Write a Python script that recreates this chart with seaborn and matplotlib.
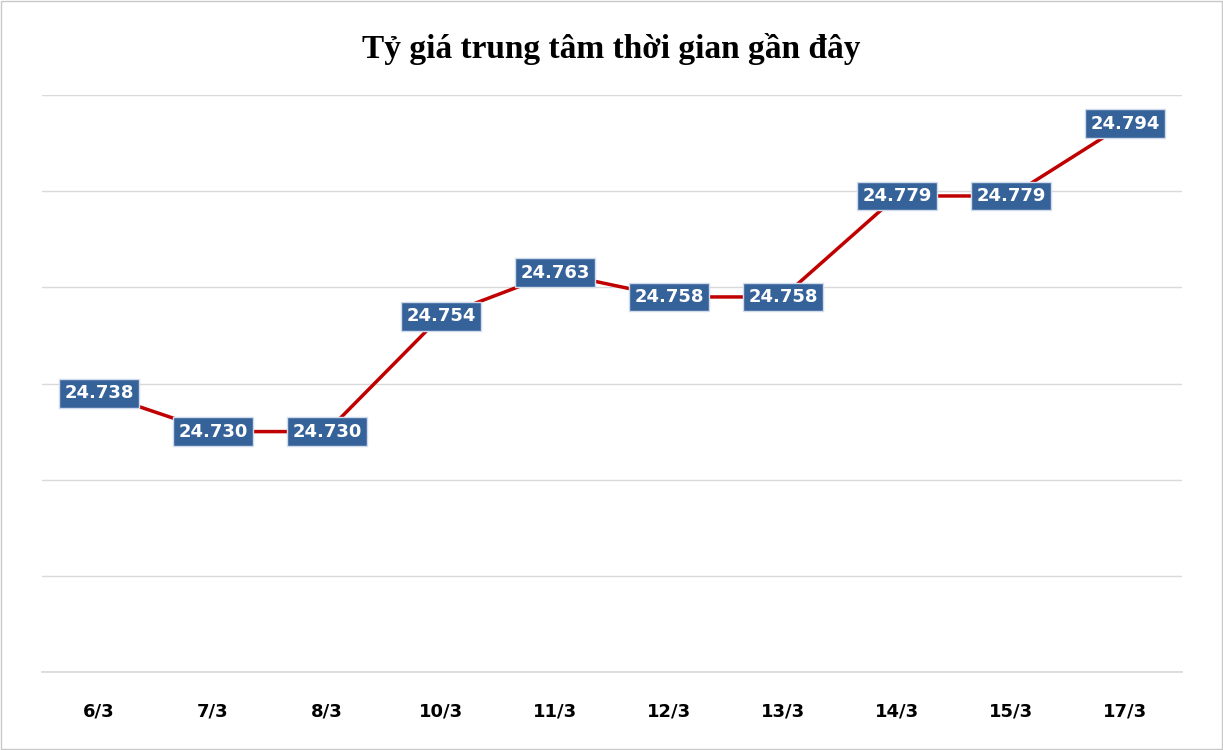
import matplotlib
matplotlib.use('Agg')
import matplotlib.pyplot as plt
import seaborn as sns
import pandas as pd
import numpy as np

dates = ['6/3', '7/3', '8/3', '10/3', '11/3', '12/3', '13/3', '14/3', '15/3', '17/3']
rates = [24.738, 24.730, 24.730, 24.754, 24.763, 24.758, 24.758, 24.779, 24.779, 24.794]

sns.set_theme(style='white')
plt.rcParams['font.family'] = ['DejaVu Sans']

df = pd.DataFrame({'date': dates, 'rate': rates})
df['x'] = np.arange(len(dates))

fig = plt.figure(figsize=(12.23, 7.5), dpi=100)
ax = fig.add_axes([42 / 1223, 78 / 750, 1140 / 1223, 577 / 750])

sns.lineplot(data=df, x='x', y='rate', ax=ax, color='#c00000', linewidth=2.5)

for xi, v in zip(df['x'], df['rate']):
    ax.text(xi, v, f'{v:.3f}', ha='center', va='center',
            color='white', fontsize=13, fontweight='bold',
            bbox=dict(boxstyle='square,pad=0.3', facecolor='#36629a',
                      edgecolor='#d0dcec', linewidth=1))

ax.set_xlim(-0.5, len(dates) - 0.5)
ax.set_ylim(24.68, 24.80)
ax.set_yticks(np.arange(24.68, 24.801, 0.02))
ax.set_yticklabels([])
ax.tick_params(axis='y', length=0)
ax.grid(axis='y', color='#d9d9d9', linewidth=1)
ax.set_xticks(df['x'])
ax.set_xticklabels(dates, fontsize=13, fontweight='bold', color='black')
ax.tick_params(axis='x', length=0, pad=22)
ax.set_xlabel('')
ax.set_ylabel('')
for s in ['top', 'left', 'right']:
    ax.spines[s].set_visible(False)
ax.spines['bottom'].set_color('#d9d9d9')

fig.text(0.5, 0.935, 'Tỷ giá trung tâm thời gian gần đây', ha='center', va='center',
         fontsize=24, fontweight='bold', color='black',
         family=['Liberation Serif', 'DejaVu Serif'])

fig.patches.append(plt.Rectangle((0.001, 0.001), 0.998, 0.998, transform=fig.transFigure,
                                 fill=False, edgecolor='#c8c8c8', linewidth=1))

fig.savefig('out.png', dpi=100)
